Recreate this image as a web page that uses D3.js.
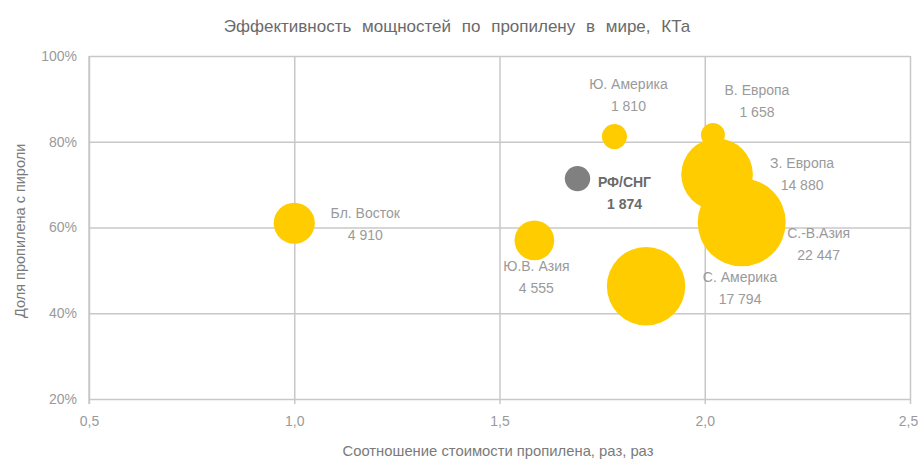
<!DOCTYPE html>
<html>
<head>
<meta charset="utf-8">
<script src="https://cdn.jsdelivr.net/npm/d3@7"></script>
<style>
  body { margin: 0; background: #fff; }
  text { font-family: "Liberation Sans", Arial, sans-serif; }
</style>
</head>
<body>
<div id="chart"></div>
<script>
// data
var regions = ['Бл. Восток', 'Ю. Америка', 'В. Европа', 'З. Европа', 'С.-В.Азия', 'РФ/СНГ', 'Ю.В. Азия', 'С. Америка'];
var priceRatio = [1.0, 1.78, 2.02, 2.03, 2.09, 1.69, 1.585, 1.857];
var propShare = [0.61, 0.812, 0.816, 0.724, 0.612, 0.714, 0.57, 0.463];
var capacity = [4910, 1810, 1658, 14880, 22447, 1874, 4555, 17794];
var xTicks = [0.5, 1.0, 1.5, 2.0, 2.5];
var yTicks = [0.2, 0.4, 0.6, 0.8, 1.0];

// hand placed label offsets (px from bubble centre), as in the original
var labelOffsets = [[71, -10], [14, -53], [44, -45], [85, -11], [77, 11], [47, 3], [2, 26], [94, -9]];

var width = 918;
var height = 459;
var margin = {top: 56, right: 8, bottom: 60, left: 89};

var svg = d3.select('#chart').append('svg')
      .attr('width', width)
      .attr('height', height)

var xScale = d3.scaleLinear()
      .domain([0.5, 2.5])
      .range([margin.left, width - margin.right])

var yScale = d3.scaleLinear()
      .domain([0.2, 1.0])
      .range([height - margin.bottom, margin.top])

var rScale = d3.scaleSqrt()
      .domain([0, d3.max(capacity)])
      .range([0, 44])

var gridColor = '#c8c8c8';
var textColor = '#9a9a9a';

// vertical grid + x axis ticks
var xAxis = d3.axisBottom(xScale)
      .tickValues(xTicks)
      .tickSizeOuter(0)
      .tickPadding(0)
      .tickFormat(d => d3.format('.1f')(d).replace('.', ','))

var gx = svg.append('g')
      .attr('transform', 'translate(0,' + yScale(0.2) + ')')
      .call(xAxis)
gx.select('.domain').remove()
gx.selectAll('.tick line')
      .attr('y1', 5)
      .attr('y2', -(yScale(0.2) - yScale(1.0)))
      .attr('stroke', gridColor)
      .attr('stroke-width', 1.5)
gx.selectAll('.tick text')
      .attr('y', 23)
      .attr('dy', '0.32em')
      .attr('fill', textColor)
      .style('font-size', '14px')
// last label sits on the window edge
gx.selectAll('.tick text').filter(d => d === 2.5).attr('x', -2)

// horizontal grid + y axis labels
var yAxis = d3.axisLeft(yScale)
      .tickValues(yTicks)
      .tickSizeInner(-(xScale(2.5) - xScale(0.5)))
      .tickSizeOuter(0)
      .tickPadding(12)
      .tickFormat(d3.format('.0%'))

var gy = svg.append('g')
      .attr('transform', 'translate(' + xScale(0.5) + ',0)')
      .call(yAxis)
gy.select('.domain').remove()
gy.selectAll('.tick line')
      .attr('stroke', gridColor)
      .attr('stroke-width', 1.5)
gy.selectAll('.tick text')
      .attr('fill', textColor)
      .style('font-size', '14px')

// left axis line reaches down as a tick
svg.append('line')
      .attr('x1', xScale(0.5)).attr('x2', xScale(0.5))
      .attr('y1', yScale(1.0)).attr('y2', yScale(0.2) + 5)
      .attr('stroke', gridColor)
      .attr('stroke-width', 1.5)

var points = regions.map((name, i) => ({
      name: name,
      x: priceRatio[i],
      y: propShare[i],
      v: capacity[i],
      off: labelOffsets[i],
      own: name === 'РФ/СНГ'
}))

// bubbles
svg.append('g').selectAll('circle')
      .data(points)
      .enter()
      .append('circle')
            .attr('cx', d => xScale(d.x))
            .attr('cy', d => yScale(d.y))
            .attr('r', d => rScale(d.v))
            .attr('fill', d => d.own ? '#808080' : '#ffcc00')

// labels: name + capacity
var fmt = v => d3.format(',')(v).replace(/,/g, ' ')
var labels = svg.append('g').selectAll('text')
      .data(points)
      .enter()
      .append('text')
            .attr('x', d => xScale(d.x) + d.off[0])
            .attr('y', d => yScale(d.y) + d.off[1])
            .attr('text-anchor', 'middle')
            .attr('fill', d => d.own ? '#6a6a6a' : textColor)
            .style('font-size', '14px')
            .style('font-weight', d => d.own ? 'bold' : 'normal')
labels.append('tspan')
      .attr('dy', '0.35em')
      .text(d => d.name)
labels.append('tspan')
      .attr('x', d => xScale(d.x) + d.off[0])
      .attr('dy', 22)
      .text(d => fmt(d.v))

// titles
svg.append('text')
      .attr('x', 457)
      .attr('y', 26)
      .attr('dy', '0.35em')
      .attr('text-anchor', 'middle')
      .attr('fill', '#6a6a6a')
      .style('font-size', '17px')
      .style('word-spacing', '6px')
      .text('Эффективность мощностей по пропилену в мире, КТа')

svg.append('text')
      .attr('x', 498)
      .attr('y', 451)
      .attr('dy', '0.35em')
      .attr('text-anchor', 'middle')
      .attr('fill', '#7a7a7a')
      .style('font-size', '14.8px')
      .text('Соотношение стоимости пропилена, раз, раз')

svg.append('text')
      .attr('transform', 'translate(20,318) rotate(-90)')
      .attr('dy', '0.35em')
      .attr('text-anchor', 'start')
      .attr('fill', '#7a7a7a')
      .style('font-size', '14.5px')
      .text('Доля пропилена с пироли')
</script>
</body>
</html>
